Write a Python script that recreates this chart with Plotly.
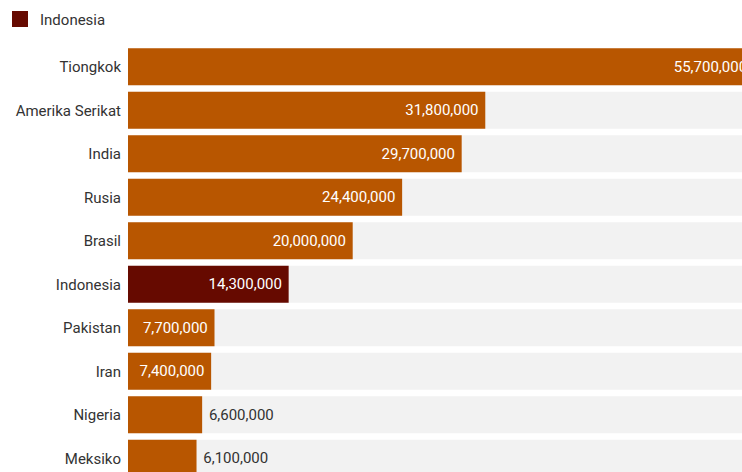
import plotly.graph_objects as go

countries = ["Tiongkok", "Amerika Serikat", "India", "Rusia", "Brasil",
             "Indonesia", "Pakistan", "Iran", "Nigeria", "Meksiko"]
values = [55700000, 31800000, 29700000, 24400000, 20000000,
          14300000, 7700000, 7400000, 6600000, 6100000]
highlight = "Indonesia"
x_max = 54650000
background = [x_max * 1.2] * len(countries)

ORANGE = "#b85600"
DARK = "#660a00"
GRAY = "#f2f2f2"
TXT = "#333333"
FS = 15

colors = [DARK if c == highlight else ORANGE for c in countries]
inside = [v >= 7000000 for v in values]
texts = []
positions = []
for v, ins in zip(values, inside):
    s = f"{v:,}"
    if ins:
        texts.append(s + "\u00a0")
        positions.append("inside")
    else:
        texts.append("\u00a0" + s)
        positions.append("outside")

fig = go.Figure()
fig.add_trace(go.Bar(
    y=countries, x=background, orientation="h",
    marker=dict(color=GRAY, line=dict(width=0)),
    hoverinfo="skip", showlegend=False,
))
fig.add_trace(go.Bar(
    y=countries, x=values, orientation="h",
    marker=dict(color=colors, line=dict(width=0)),
    text=texts, textposition=positions,
    insidetextanchor="end",
    outsidetextfont=dict(family="Roboto", size=FS, color=TXT),
    insidetextfont=dict(family="Roboto", size=FS, color="white"),
    constraintext="none",
    cliponaxis=True,
    showlegend=False,
))
# legend-only entry for the highlighted country (point lies outside the visible range)
fig.add_trace(go.Scatter(
    x=[-x_max], y=[highlight], mode="markers", name=highlight,
    marker=dict(symbol="square", size=17, color=DARK, line=dict(width=0)),
    cliponaxis=True, hoverinfo="skip", showlegend=True,
))

fig.update_layout(
    width=742, height=472,
    margin=dict(l=128, r=0, t=45, b=0),
    paper_bgcolor="white", plot_bgcolor="white",
    barmode="overlay", bargap=0.15,
    font=dict(family="Roboto", size=FS, color=TXT),
    showlegend=True,
    legend=dict(
        orientation="h", x=-0.2166, xref="paper", y=0.994, yref="container",
        xanchor="left", yanchor="top",
        font=dict(family="Roboto", size=FS, color=TXT),
        itemsizing="trace", bgcolor="rgba(0,0,0,0)",
    ),
    xaxis=dict(range=[0, x_max], visible=False, showgrid=False, zeroline=False,
               fixedrange=True),
    yaxis=dict(range=[9.316, -0.5], showgrid=False, zeroline=False,
               showline=False, ticks="", ticklabelstandoff=6,
               tickfont=dict(family="Roboto", size=FS, color=TXT),
               fixedrange=True),
)

fig.write_html("out.html")
